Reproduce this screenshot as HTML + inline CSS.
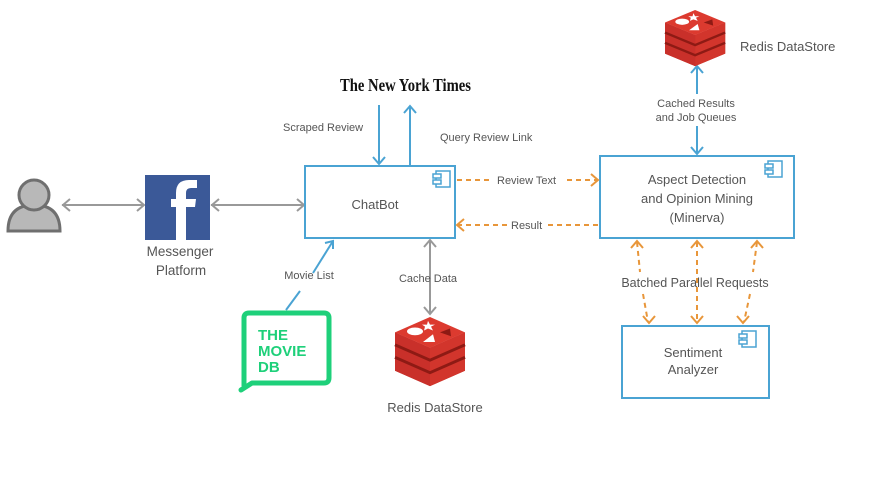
<!DOCTYPE html>
<html><head><meta charset="utf-8"><style>
html,body{margin:0;padding:0;background:#fff;}
svg{display:block;font-family:"Liberation Sans",sans-serif;}
text{fill:#555;}
</style></head><body>
<svg width="870" height="481" viewBox="0 0 870 481" xmlns="http://www.w3.org/2000/svg">
<defs>
<g id="redis">
  <polygon points="0,16 35,32 70,16 70,56 35,72 0,56" fill="#b8221c"/>
  <polygon points="0,16 35,32 35,72 0,56" fill="#c9302a"/>
  <polygon points="35,32 70,16 70,56 35,72" fill="#d2352c"/>
  <path d="M0,29 L35,45 L70,29 M0,42 L35,58 L70,42" stroke="#8e1a14" stroke-width="3" fill="none"/>
  <polygon points="0,16 35,0 70,16 35,32" fill="#dc3a2f"/>
  <ellipse cx="20" cy="15" rx="8" ry="4" fill="#fff"/>
  <polygon points="33,4 35,8 40,8 36,10 38,14 33,12 29,14 30,10 27,8 32,8" fill="#fff"/>
  <polygon points="28,26 38,18 40,26" fill="#fff"/>
  <polygon points="45,16 55,12 56,20" fill="#8e1a14"/>
</g>
<g id="comp">
  <rect x="3" y="0" width="14" height="16" fill="none" stroke="#4aa3d3" stroke-width="1.5"/>
  <rect x="0" y="3" width="8" height="4" fill="#fff" stroke="#4aa3d3" stroke-width="1.5"/>
  <rect x="0" y="9" width="8" height="4" fill="#fff" stroke="#4aa3d3" stroke-width="1.5"/>
</g>
</defs>

<!-- person -->
<path d="M8,231 Q8,205 34,205 Q60,205 60,231 Z" fill="#b8b8b8" stroke="#6f6f6f" stroke-width="3"/>
<circle cx="34" cy="195" r="15" fill="#b8b8b8" stroke="#6f6f6f" stroke-width="3"/>

<!-- gray arrows -->
<g stroke="#999" stroke-width="2" fill="none">
  <line x1="62" y1="205" x2="144" y2="205"/>
  <path d="M70,199 L63,205 L70,211 M137,199 L144,205 L137,211"/>
  <line x1="211" y1="205" x2="304" y2="205"/>
  <path d="M219,199 L212,205 L219,211 M297,199 L304,205 L297,211"/>
  <line x1="430" y1="240" x2="430" y2="314"/>
  <path d="M424,247 L430,240 L436,247 M424,307 L430,314 L436,307"/>
</g>

<!-- facebook -->
<rect x="145" y="175" width="65" height="65" fill="#3b5998"/>
<path d="M186,240 V207 H195 L196,199 H186 V193 Q186,188 191,188 H197 V180 H189 Q176,180 176,193 V199 H171 V207 H176 V240 Z" fill="#fff"/>
<text x="180" y="256" font-size="13.5" text-anchor="middle">Messenger</text>
<text x="181" y="275" font-size="13.5" text-anchor="middle">Platform</text>

<!-- ChatBot -->
<rect x="305" y="166" width="150" height="72" fill="#fff" stroke="#4aa3d3" stroke-width="2"/>
<use href="#comp" x="433" y="171"/>
<text x="375" y="209" font-size="13" text-anchor="middle">ChatBot</text>

<!-- NYT -->
<text x="340" y="91" font-family="'Liberation Serif',serif" font-weight="bold" font-size="18" style="fill:#111" textLength="131" lengthAdjust="spacingAndGlyphs">The New York Times</text>
<g stroke="#4aa3d3" stroke-width="2" fill="none">
  <line x1="379" y1="105" x2="379" y2="164"/>
  <path d="M373,157 L379,164 L385,157"/>
  <line x1="410" y1="166" x2="410" y2="106"/>
  <path d="M404,113 L410,106 L416,113"/>
  <line x1="697" y1="66" x2="697" y2="94"/>
  <line x1="697" y1="126" x2="697" y2="154"/>
  <path d="M691,73 L697,66 L703,73 M691,147 L697,154 L703,147"/>
  <line x1="286" y1="310" x2="300" y2="291"/>
  <line x1="313" y1="273" x2="333" y2="241"/>
  <path d="M325,243 L333,241 L333,249"/>
</g>
<text x="283" y="131" font-size="11">Scraped Review</text>
<text x="440" y="141" font-size="11">Query Review Link</text>

<!-- Aspect -->
<rect x="600" y="156" width="194" height="82" fill="#fff" stroke="#4aa3d3" stroke-width="2"/>
<use href="#comp" x="765" y="161"/>
<text x="697" y="184" font-size="13" text-anchor="middle">Aspect Detection</text>
<text x="697" y="203" font-size="13" text-anchor="middle">and Opinion Mining</text>
<text x="697" y="222" font-size="13" text-anchor="middle">(Minerva)</text>

<!-- orange dashed -->
<g stroke="#e8963a" stroke-width="2" fill="none" stroke-dasharray="5,4">
  <line x1="457" y1="180" x2="490" y2="180"/>
  <line x1="567" y1="180" x2="598" y2="180"/>
  <line x1="457" y1="225" x2="508" y2="225"/>
  <line x1="548" y1="225" x2="598" y2="225"/>
  <line x1="637" y1="242" x2="640" y2="272"/>
  <line x1="643" y1="294" x2="648" y2="322"/>
  <line x1="697" y1="242" x2="697" y2="322"/>
  <line x1="757" y1="242" x2="753" y2="272"/>
  <line x1="750" y1="294" x2="744" y2="322"/>
</g>
<g stroke="#e8963a" stroke-width="2" fill="none">
  <path d="M591,174 L598,180 L591,186 M464,219 L457,225 L464,231"/>
  <path d="M631,248 L637,241 L643,248 M643,316 L649,323 L655,316"/>
  <path d="M691,248 L697,241 L703,248 M691,316 L697,323 L703,316"/>
  <path d="M751,248 L757,241 L763,248 M737,316 L743,323 L749,316"/>
</g>
<text x="497" y="184" font-size="11">Review Text</text>
<text x="511" y="229" font-size="11">Result</text>
<text x="695" y="287" font-size="12.5" text-anchor="middle">Batched Parallel Requests</text>

<!-- Redis top -->
<use href="#redis" transform="translate(665,10) scale(0.86,0.78)"/>
<text x="740" y="51" font-size="13">Redis DataStore</text>
<text x="696" y="107" font-size="11" text-anchor="middle">Cached Results</text>
<text x="696" y="121" font-size="11" text-anchor="middle">and Job Queues</text>

<!-- Sentiment -->
<rect x="622" y="326" width="147" height="72" fill="#fff" stroke="#4aa3d3" stroke-width="2"/>
<use href="#comp" x="739" y="331"/>
<text x="693" y="357" font-size="13" text-anchor="middle">Sentiment</text>
<text x="693" y="374" font-size="13" text-anchor="middle">Analyzer</text>

<text x="309" y="279" font-size="11" text-anchor="middle">Movie  List</text>
<text x="428" y="282" font-size="11" text-anchor="middle">Cache Data</text>

<!-- TMDB -->
<path d="M244,388 L244,318 Q244,313 249,313 L324,313 Q329,313 329,318 L329,378 Q329,383 324,383 L252,383 L241,390 Z" fill="none" stroke="#1ed07a" stroke-width="5" stroke-linejoin="round"/>
<text x="258" y="340" font-size="15" font-weight="bold" style="fill:#1ed07a">THE</text>
<text x="258" y="356" font-size="15" font-weight="bold" style="fill:#1ed07a">MOVIE</text>
<text x="258" y="372" font-size="15" font-weight="bold" style="fill:#1ed07a">DB</text>

<!-- Redis middle -->
<use href="#redis" transform="translate(395,317) scale(1.0,0.96)"/>
<text x="435" y="412" font-size="13" text-anchor="middle">Redis DataStore</text>
</svg>
</body></html>
